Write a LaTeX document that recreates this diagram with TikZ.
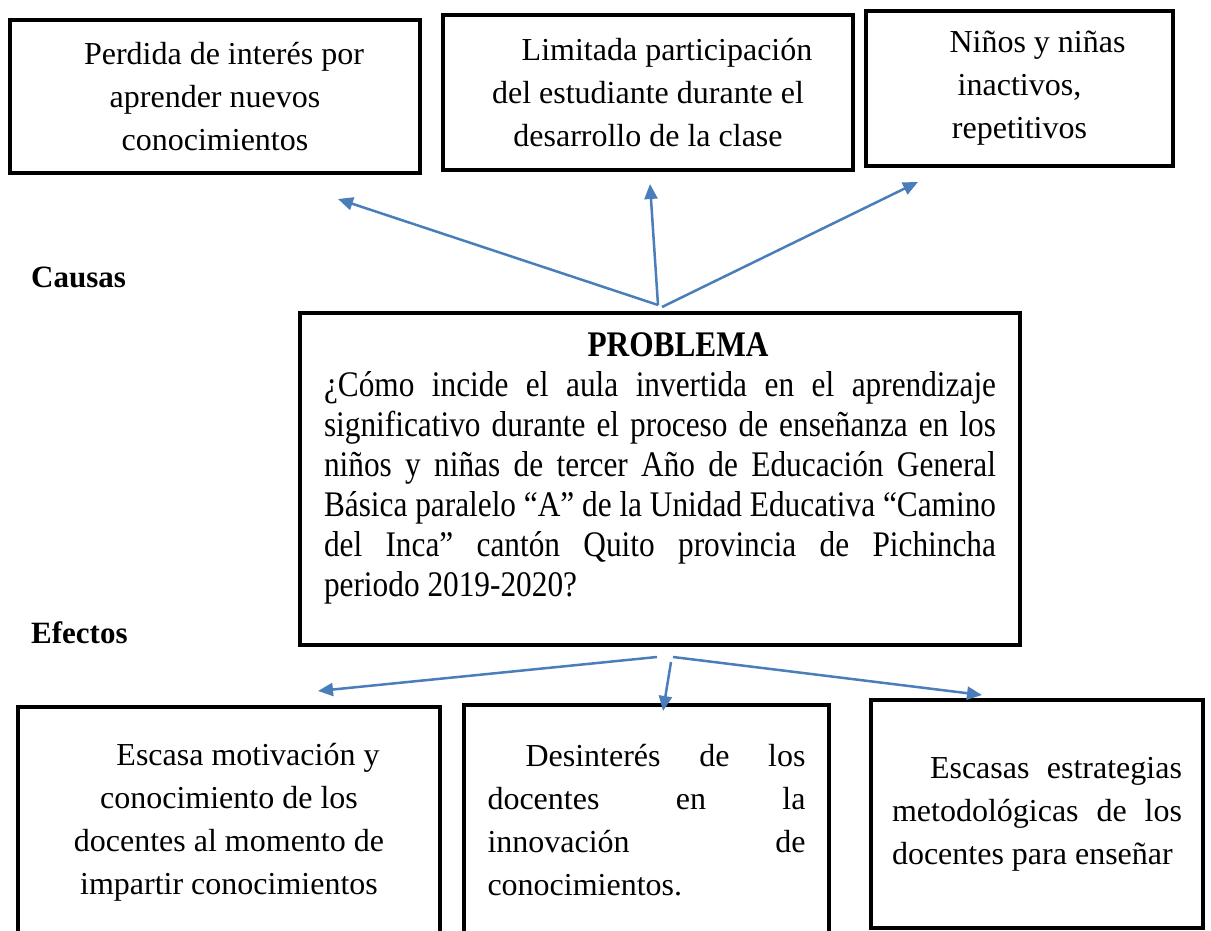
\documentclass[tikz,border=0pt]{standalone}
\usepackage{fontspec}
\setmainfont{Liberation Serif}
\newfontfamily\probfont[FakeStretch=0.87]{Liberation Serif}
\usetikzlibrary{arrows.meta}
\definecolor{arrowblue}{RGB}{74,126,187}
\tikzset{
	causebox/.style={draw, line width=4pt, rectangle, inner sep=0pt, font=\fontsize{32}{43}\selectfont},
	sidelabel/.style={anchor=west, inner sep=0pt, font=\fontsize{31}{36}\selectfont\bfseries},
	bluearrow/.style={draw=arrowblue, line width=2.5pt, -{Triangle[length=15pt,width=13pt]}},
}
\begin{document}
\begin{tikzpicture}[x=1pt,y=1pt,yscale=-1,xscale=1]
			\useasboundingbox (0,0) rectangle (1211,931);
			%Shape: Rectangle [causas]
			\node [causebox, minimum width=410pt, minimum height=153pt, align=center] (perdida) at (215,96.5) {\hspace*{18pt}Perdida de interés por\\aprender nuevos\\conocimientos};
			\node [causebox, minimum width=410pt, minimum height=155pt, align=center] (limitada) at (648,92.5) {\hspace*{38pt}Limitada participación\\del estudiante durante el\\desarrollo de la clase};
			\node [causebox, minimum width=307pt, minimum height=155pt, align=center] (inactivos) at (1019.5,88.5) {\hspace*{36pt}Niños y niñas\\inactivos,\\repetitivos};

			% Text Node
			\node [sidelabel] (causas) at (31,277) {Causas};
			\node [sidelabel] (efectos) at (31,633) {Efectos};

			%Shape: Rectangle [problema]
			\node [causebox, minimum width=720pt, minimum height=332pt, text width=672pt, align=justify, font=\probfont\fontsize{36}{40}\selectfont] (problema) at (660,479) {\makebox[\linewidth]{\hspace{36pt}\bfseries PROBLEMA}\\
			¿Cómo incide el aula invertida en el aprendizaje\linebreak
			significativo durante el proceso de enseñanza en los\linebreak
			niños y niñas de tercer Año de Educación General\linebreak
			Básica paralelo “A” de la Unidad Educativa “Camino\linebreak
			del Inca” cantón Quito provincia de Pichincha\linebreak
			periodo 2019-2020?\\[-12pt]\mbox{}};

			%Shape: Rectangle [efectos]
			\node [causebox, minimum width=422pt, minimum height=230pt, align=center] (motivacion) at (229,822) {\hspace*{38pt}Escasa motivación y\\conocimiento de los\\docentes al momento de\\impartir conocimientos};
			\node [causebox, minimum width=365pt, minimum height=230pt, text width=318pt, align=justify] (desinteres) at (646.5,820) {\hspace*{38pt}Desinterés de los\linebreak docentes en la\linebreak innovación de\linebreak conocimientos.};
			\node [causebox, minimum width=332pt, minimum height=228pt, text width=290pt, align=justify] (estrategias) at (1037,814) {\hspace*{38pt}Escasas estrategias\linebreak metodológicas de los\linebreak docentes para enseñar};

			%Straight Lines [arrows]
			\coordinate (causeroot) at (658,305);
			\coordinate (causeroot2) at (662,307);
			\coordinate (perdidatip) at (338,199);
			\coordinate (limitadatip) at (650,184);
			\coordinate (inactivostip) at (918,182);
			\draw [bluearrow] (causeroot) -- (perdidatip);
			\draw [bluearrow] (causeroot) -- (limitadatip);
			\draw [bluearrow] (causeroot2) -- (inactivostip);

			\coordinate (effectroot) at (657,657);
			\coordinate (effectroot2) at (671,662);
			\coordinate (effectroot3) at (673,657);
			\coordinate (motivaciontip) at (318,691);
			\coordinate (desinterestip) at (663,711);
			\coordinate (estrategiastip) at (982,695);
			\draw [bluearrow] (effectroot) -- (motivaciontip);
			\draw [bluearrow] (effectroot2) -- (desinterestip);
			\draw [bluearrow] (effectroot3) -- (estrategiastip);
\end{tikzpicture}
\end{document}
